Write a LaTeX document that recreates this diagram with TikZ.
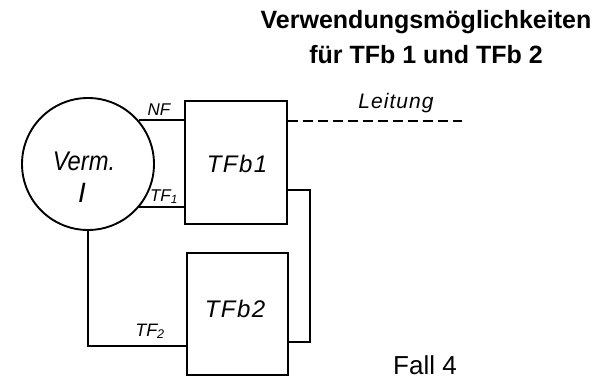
\documentclass[tikz,border=0pt]{standalone}
\usepackage{fontspec}
\usepackage{graphicx}
\setmainfont{Liberation Sans}
\begin{document}
\begin{tikzpicture}[x=1pt,y=-1pt,
  wire/.style={line width=1.7pt},
  box/.style={draw,line width=1.9pt,rectangle,inner sep=0pt},
  lbl/.style={font=\itshape\fontsize{17}{17}\selectfont,inner sep=0pt,anchor=base},
  big/.style={font=\itshape\fontsize{24}{24}\selectfont\addfontfeature{LetterSpace=6},inner sep=0pt,anchor=base}]
\useasboundingbox (0,0) rectangle (604,381);
% title
\node[font=\bfseries\fontsize{25}{30}\selectfont,inner sep=0pt,anchor=base] (title1) at (426,28) {Verwendungsmöglichkeiten};
\node[font=\bfseries\fontsize{25}{30}\selectfont,inner sep=0pt,anchor=base] (title2) at (426,63) {für TFb 1 und TFb 2};
% main blocks
\node[draw,circle,line width=1.9pt,minimum size=132pt,inner sep=0pt] (verm) at (88,164) {};
\node[font=\itshape\fontsize{27}{27}\selectfont,inner sep=0pt,anchor=base] (vtxt) at (84,170) {\scalebox{0.88}[1]{Verm.}};
\node[font=\fontsize{28}{28}\selectfont\rmfamily\itshape,inner sep=0pt,anchor=base] (vI) at (82,202) {I};
\node[box,minimum width=102pt,minimum height=123pt] (tfb1) at (236,162.5) {};
\node[big] (t1) at (237,172) {TFb1};
\node[box,minimum width=101pt,minimum height=122pt] (tfb2) at (237.5,314) {};
\node[big] (t2) at (235,317) {TFb2};
% connectors
\draw[wire] (verm.41.8) -- (verm.41.8 -| tfb1.west);
\draw[wire] (verm.-40.8) -- (verm.-40.8 -| tfb1.west);
\coordinate (lend) at (462,121);
\draw[wire,dash pattern=on 10pt off 5pt] (lend -| tfb1.east) -- (lend);
\coordinate (ra) at (310,190);
\coordinate (rb) at (310,342);
\draw[wire] (ra -| tfb1.east) -- (ra) -- (rb) -- (rb -| tfb2.east);
\coordinate (bl) at (88,346);
\draw[wire] (verm.south) -- (bl) -- (bl -| tfb2.west);
% labels
\node[lbl] (nf) at (159,115) {NF};
\node[lbl] (tf1) at (164,201) {TF\textsubscript{1}};
\node[font=\itshape\fontsize{18}{18}\selectfont,inner sep=0pt,anchor=base] (tf2) at (150,336) {TF\textsubscript{2}};
\node[font=\itshape\fontsize{21}{21}\selectfont\addfontfeature{LetterSpace=5},inner sep=0pt,anchor=base] (leit) at (396,108) {Leitung};
\node[font=\fontsize{26}{26}\selectfont,inner sep=0pt,anchor=base] (fall) at (425,374) {Fall 4};
\end{tikzpicture}
\end{document}
